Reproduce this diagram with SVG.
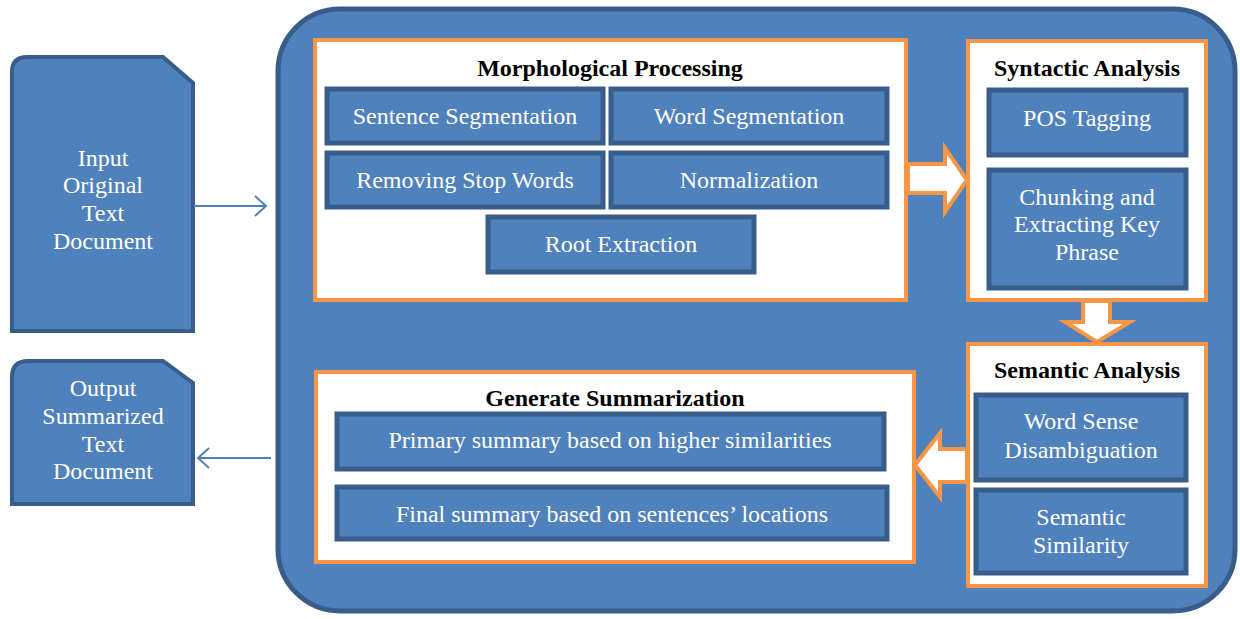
<svg xmlns="http://www.w3.org/2000/svg" width="1240" height="619" viewBox="0 0 1240 619">
<defs>
<style>
.blue{fill:#4f81bd;stroke:#385d8a;stroke-width:5}
.doc{fill:#4f81bd;stroke:#385d8a;stroke-width:4}
.panel{fill:#ffffff;stroke:#f79646;stroke-width:4}
.blk{fill:#ffffff;stroke:#f79646;stroke-width:4;stroke-linejoin:miter}
.t{font-size:24px;fill:#ffffff;text-anchor:middle}
.h{font-size:24px;font-weight:bold;fill:#000000;text-anchor:middle}
.conn{fill:none;stroke:#4f81bd;stroke-width:2}
</style>
<marker id="open" markerWidth="14" markerHeight="22" refX="12" refY="11" orient="auto" markerUnits="userSpaceOnUse">
<path d="M1,1 L12,11 L1,21" fill="none" stroke="#4f81bd" stroke-width="2"/>
</marker>
</defs>
<rect width="1240" height="619" fill="#ffffff"/>
<g font-family="'Liberation Serif', 'Times New Roman', Times, serif">
<g id="input-doc">
<path class="doc" d="M12,72 Q12,57 27,57 L163,57 L193,83 L193,331 L12,331 Z"/>
<text class="t"><tspan x="103" y="166">Input</tspan><tspan x="103" y="193">Original</tspan><tspan x="103" y="221">Text</tspan><tspan x="103" y="249">Document</tspan></text>
</g>

<g id="output-doc">
<path class="doc" d="M12,377 Q12,361 28,361 L163,361 L193,383 L193,504 L12,504 Z"/>
<text class="t"><tspan x="103" y="396">Output</tspan><tspan x="103" y="424">Summarized</tspan><tspan x="103" y="452">Text</tspan><tspan x="103" y="479">Document</tspan></text>
</g>

<g id="container">
<rect class="blue" x="278" y="9" width="957" height="602" rx="62" ry="62"/>
</g>

<g id="morphological">
<rect class="panel" x="315" y="40" width="591" height="260"/>
<text class="h" x="610" y="76">Morphological Processing</text>
<rect class="blue" x="327" y="89" width="276" height="54"/>
<text class="t" x="465" y="124">Sentence Segmentation</text>
<rect class="blue" x="611" y="89" width="276" height="54"/>
<text class="t" x="749" y="124">Word Segmentation</text>
<rect class="blue" x="327" y="153" width="276" height="54"/>
<text class="t" x="465" y="188">Removing Stop Words</text>
<rect class="blue" x="611" y="153" width="276" height="54"/>
<text class="t" x="749" y="188">Normalization</text>
<rect class="blue" x="488" y="217" width="266" height="55"/>
<text class="t" x="621" y="252">Root Extraction</text>
</g>

<g id="syntactic">
<rect class="panel" x="968" y="41" width="238" height="259"/>
<text class="h" x="1087" y="76">Syntactic Analysis</text>
<rect class="blue" x="989" y="90" width="197" height="65"/>
<text class="t" x="1087" y="126">POS Tagging</text>
<rect class="blue" x="989" y="170" width="197" height="118"/>
<text class="t"><tspan x="1087" y="205">Chunking and</tspan><tspan x="1087" y="232">Extracting Key</tspan><tspan x="1087" y="260">Phrase</tspan></text>
</g>

<g id="semantic">
<rect class="panel" x="968" y="344" width="238" height="242"/>
<text class="h" x="1087" y="378">Semantic Analysis</text>
<rect class="blue" x="976" y="395" width="210" height="85"/>
<text class="t"><tspan x="1081" y="429">Word Sense</tspan><tspan x="1081" y="458">Disambiguation</tspan></text>
<rect class="blue" x="976" y="490" width="210" height="83"/>
<text class="t"><tspan x="1081" y="525">Semantic</tspan><tspan x="1081" y="553">Similarity</tspan></text>
</g>

<g id="generate">
<rect class="panel" x="316" y="372" width="598" height="190"/>
<text class="h" x="615" y="406">Generate Summarization</text>
<rect class="blue" x="337" y="414" width="547" height="55"/>
<text class="t" x="610" y="448">Primary summary based on higher similarities</text>
<rect class="blue" x="337" y="487" width="550" height="52"/>
<text class="t" x="612" y="522">Final summary based on sentences’ locations</text>
</g>
</g>
<g id="connectors">
<line class="conn" x1="194" y1="206" x2="266" y2="206" marker-end="url(#open)"/>
<line class="conn" x1="271" y1="458" x2="198" y2="458" marker-end="url(#open)"/>
<path class="blk" d="M908,164 L945,164 L945,148 L967,180 L945,212 L945,193 L908,193 Z"/>
<path class="blk" d="M1083,301 L1110,301 L1110,322 L1130,322 L1097,342 L1065,322 L1083,322 Z"/>
<path class="blk" d="M967,449 L940,449 L940,433 L915,465 L940,497 L940,482 L967,482 Z"/>
</g>
</svg>
